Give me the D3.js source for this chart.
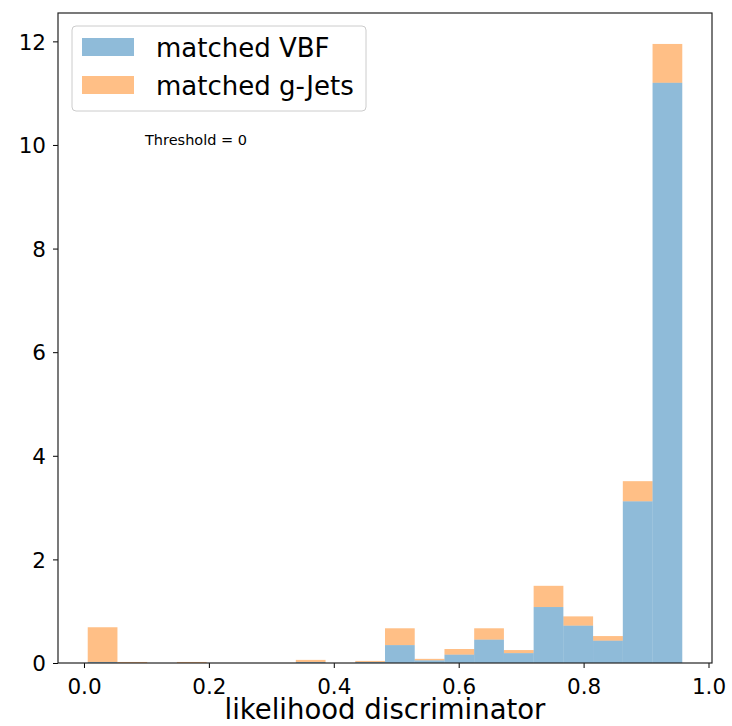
<!DOCTYPE html>
<html>
<head>
<meta charset="utf-8">
<script src="https://cdn.jsdelivr.net/npm/d3@7"></script>
<style>
  body { margin: 0; background: #fff; }
  svg { font-family: "DejaVu Sans", sans-serif; }
</style>
</head>
<body>
<div id="chart"></div>
<script>
// histogram bins (20 equal bins)
var binStart = 0.006;
var binWidth = 0.0476;
// matched VBF per bin
var vbf = [0.02, 0, 0, 0, 0, 0, 0, 0.02, 0, 0.02, 0.345, 0.05, 0.16, 0.45, 0.19, 1.08, 0.72, 0.43, 3.12, 11.20];
// stacked total (VBF + g-Jets) per bin
var total = [0.69, 0.02, 0, 0.02, 0, 0, 0, 0.06, 0, 0.04, 0.67, 0.08, 0.27, 0.67, 0.25, 1.49, 0.90, 0.52, 3.51, 11.95];
var xTicks = [0.0, 0.2, 0.4, 0.6, 0.8, 1.0];
var yTicks = [0, 2, 4, 6, 8, 10, 12];
var seriesNames = ["matched VBF", "matched g-Jets"];
var seriesColors = ["#1f77b4", "#ff7f0e"];

var W = 732, H = 726;
var margin = {left: 58, right: 20, top: 13, bottom: 63};

var svg = d3.select("#chart").append("svg")
    .attr("width", W)
    .attr("height", H);

var x = d3.scaleLinear()
    .domain([binStart - 0.0476, binStart + 20 * binWidth + 0.0476])
    .range([margin.left, W - margin.right]);
var y = d3.scaleLinear()
    .domain([0, d3.max(total) * 1.05])
    .range([H - margin.bottom, margin.top]);

var bins = vbf.map((v, i) => ({
    x0: binStart + i * binWidth,
    x1: binStart + (i + 1) * binWidth,
    vbf: v,
    total: total[i]
}));

// g-Jets stacked on top of VBF
svg.append("g").selectAll("rect.gjets")
    .data(bins.filter(d => d.total > d.vbf))
    .enter().append("rect")
    .attr("x", d => x(d.x0))
    .attr("width", d => x(d.x1) - x(d.x0))
    .attr("y", d => y(d.total))
    .attr("height", d => y(d.vbf) - y(d.total))
    .attr("fill", seriesColors[1])
    .attr("fill-opacity", 0.5);

svg.append("g").selectAll("rect.vbf")
    .data(bins.filter(d => d.vbf > 0))
    .enter().append("rect")
    .attr("x", d => x(d.x0))
    .attr("width", d => x(d.x1) - x(d.x0))
    .attr("y", d => y(d.vbf))
    .attr("height", d => y(0) - y(d.vbf))
    .attr("fill", seriesColors[0])
    .attr("fill-opacity", 0.5);

// axes
var xAxis = svg.append("g")
    .attr("transform", "translate(0," + (H - margin.bottom) + ")")
    .call(d3.axisBottom(x).tickValues(xTicks).tickFormat(d3.format(".1f")).tickSize(5));
var yAxis = svg.append("g")
    .attr("transform", "translate(" + margin.left + ",0)")
    .call(d3.axisLeft(y).tickValues(yTicks).tickFormat(d3.format("d")).tickSize(5).tickPadding(7));
[xAxis, yAxis].forEach(a => {
    a.select(".domain").remove();
    a.selectAll("text").attr("font-size", 21.5).attr("fill", "#000").attr("font-family", "DejaVu Sans");
    a.selectAll("line").attr("stroke", "#000").attr("stroke-width", 1);
});
xAxis.selectAll("text").attr("y", 31).attr("dy", 0);
yAxis.selectAll("text").attr("dy", "0.36em");

// frame
svg.append("rect")
    .attr("x", margin.left)
    .attr("y", margin.top)
    .attr("width", W - margin.left - margin.right)
    .attr("height", H - margin.top - margin.bottom)
    .attr("fill", "none")
    .attr("stroke", "#222")
    .attr("stroke-width", 1.2);

// x label
svg.append("text")
    .attr("x", 385)
    .attr("y", 719)
    .attr("text-anchor", "middle")
    .attr("font-size", 27.5)
    .text("likelihood discriminator");

// legend
var legend = svg.append("g");
legend.append("rect")
    .attr("x", 72).attr("y", 26)
    .attr("width", 294).attr("height", 85)
    .attr("rx", 4)
    .attr("fill", "#fff").attr("fill-opacity", 0.8)
    .attr("stroke", "#ccc");
seriesNames.forEach((name, i) => {
    legend.append("rect")
        .attr("x", 82).attr("y", 38 + i * 38)
        .attr("width", 52).attr("height", 18)
        .attr("fill", seriesColors[i]).attr("fill-opacity", 0.5);
    legend.append("text")
        .attr("x", 156).attr("y", 57 + i * 38)
        .attr("font-size", 26)
        .text(name);
});

svg.append("text")
    .attr("x", 145).attr("y", 145)
    .attr("font-size", 14.5)
    .text("Threshold = 0");
</script>
</body>
</html>
